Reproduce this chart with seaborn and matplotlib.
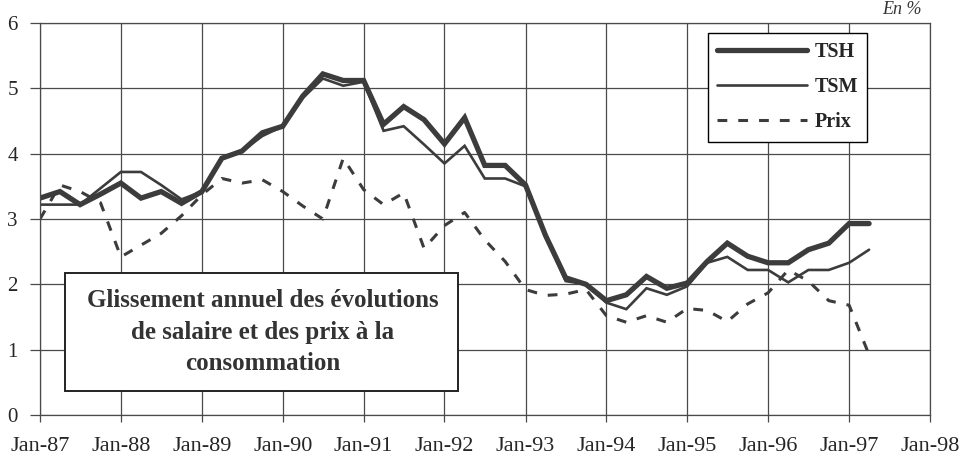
import matplotlib
matplotlib.use("Agg")
import matplotlib.pyplot as plt
import matplotlib.dates as mdates
from matplotlib.lines import Line2D
from matplotlib.patches import Rectangle
import pandas as pd
import seaborn as sns

# ---- data (quarterly, Jan-87 .. Apr-97) ----
dates = pd.date_range("1987-01-01", periods=42, freq="QS")
tsh = [3.32, 3.42, 3.22, 3.38, 3.55, 3.32, 3.42, 3.24,
       3.42, 3.93, 4.04, 4.32, 4.42, 4.88, 5.22, 5.12,
       5.12, 4.45, 4.72, 4.52, 4.15, 4.55, 3.82, 3.82,
       3.52, 2.75, 2.10, 2.00, 1.75, 1.84, 2.12, 1.94,
       2.02, 2.35, 2.63, 2.43, 2.33, 2.33, 2.53, 2.63,
       2.93, 2.93]
tsm = [3.22, 3.22, 3.22, 3.47, 3.72, 3.72, 3.52, 3.30,
       3.42, 3.92, 4.04, 4.27, 4.42, 4.85, 5.15, 5.04,
       5.10, 4.35, 4.42, 4.14, 3.85, 4.12, 3.62, 3.62,
       3.50, 2.75, 2.05, 2.00, 1.72, 1.62, 1.94, 1.84,
       1.97, 2.33, 2.42, 2.22, 2.22, 2.03, 2.22, 2.22,
       2.33, 2.53]
prix = [3.00, 3.52, 3.42, 3.25, 2.42, 2.60, 2.78, 3.05,
        3.37, 3.62, 3.55, 3.60, 3.42, 3.20, 3.00, 3.93,
        3.45, 3.22, 3.40, 2.55, 2.90, 3.10, 2.68, 2.35,
        1.92, 1.83, 1.85, 1.92, 1.52, 1.42, 1.52, 1.42,
        1.63, 1.60, 1.43, 1.70, 1.87, 2.22, 2.05, 1.75,
        1.68, 0.92]
series_names = ["TSH", "TSM", "Prix"]
year_ticks = pd.date_range("1987-01-01", "1998-01-01", freq="YS")
y_ticks = [0, 1, 2, 3, 4, 5, 6]
title_text = "Glissement annuel des évolutions\nde salaire et des prix à la\nconsommation"
unit_text = "En %"

df = pd.DataFrame({"date": dates, "TSH": tsh, "TSM": tsm, "Prix": prix})

sns.set_style("white")
plt.rcParams["font.family"] = ["Liberation Serif", "DejaVu Serif"]

line_col = "#3c3c3c"
grid_col = "#4a4a4a"

fig = plt.figure(figsize=(9.63, 4.55), dpi=100)
ax = fig.add_axes([40 / 963, 40 / 455, 890 / 963, 392 / 455])

styles = {
    "TSH": dict(linewidth=3.8, linestyle="-"),
    "TSM": dict(linewidth=1.9, linestyle="-"),
    "Prix": dict(linewidth=2.2, linestyle=(0, (3.2, 3.6))),
}
for name in series_names:
    sns.lineplot(data=df, x="date", y=name, ax=ax, color=line_col,
                 solid_joinstyle="miter", **styles[name])

ax.set_xlim(year_ticks[0], year_ticks[-1])
ax.set_ylim(0, 6)
ax.set_xticks(year_ticks)
ax.xaxis.set_major_formatter(mdates.DateFormatter("%b-%y"))
ax.set_yticks(y_ticks)
ax.set_xlabel("")
ax.set_ylabel("")
ax.grid(True, color=grid_col, linewidth=0.9)
ax.set_axisbelow(True)
for s in ax.spines.values():
    s.set_visible(True)
    s.set_color(grid_col)
    s.set_linewidth(0.9)
ax.tick_params(axis="x", direction="out", length=5, width=0.9, color=grid_col,
               labelsize=16, pad=11, bottom=True)
ax.tick_params(axis="y", direction="out", length=7, width=0.9, color=grid_col,
               labelsize=15, pad=9, left=True)

handles = [Line2D([], [], color=line_col, **styles[n]) for n in series_names]
leg = ax.legend(handles, series_names, loc="upper right",
                bbox_to_anchor=(0.929, 0.974), borderaxespad=0,
                frameon=True, fancybox=False,
                edgecolor="black", framealpha=1, handlelength=4.5,
                handletextpad=0.35, labelspacing=0.75, borderpad=0.45,
                prop={"weight": "bold", "size": 14.5})
leg.get_frame().set_linewidth(1.0)

ax.add_patch(Rectangle((25 / 890, 24 / 392), 393 / 890, 118 / 392,
                       transform=ax.transAxes, facecolor="white",
                       edgecolor="#222222", linewidth=1.4, zorder=5))
ax.text(222.5 / 890, (415 - 332) / 392, title_text, transform=ax.transAxes,
        ha="center", va="center", fontsize=18, fontweight="bold",
        color="#333333", linespacing=1.45, zorder=6)

fig.text(0.957, 1 - 1 / 455, unit_text, ha="right", va="top",
         fontsize=13, style="italic", color="#333333")

fig.savefig("out.png", dpi=100)
